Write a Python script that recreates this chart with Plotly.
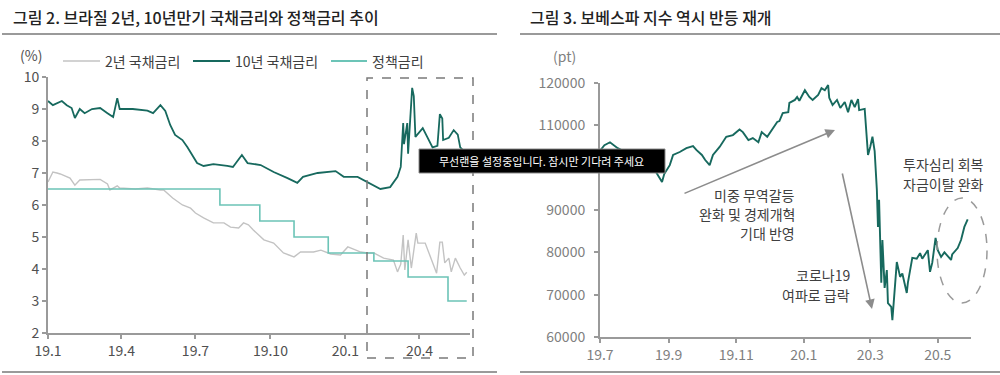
import plotly.graph_objects as go

# ---------------- data: left panel (Brazil rates, %) ----------------
y10_dates = ["2019-01-01","2019-01-07","2019-01-18","2019-01-24","2019-01-30","2019-02-03","2019-02-09",
             "2019-02-15","2019-02-24","2019-03-06","2019-03-15","2019-03-22","2019-03-27","2019-03-30",
             "2019-04-15","2019-05-03","2019-05-10","2019-05-19","2019-05-25","2019-05-31","2019-06-06",
             "2019-06-15","2019-06-21","2019-06-27","2019-07-03","2019-07-11","2019-07-23","2019-08-09",
             "2019-08-16","2019-08-27","2019-09-03","2019-09-19","2019-10-05","2019-10-22","2019-11-03",
             "2019-11-10","2019-11-28","2019-12-20","2019-12-30","2020-01-16","2020-01-28","2020-02-13",
             "2020-02-25","2020-03-05","2020-03-09","2020-03-12","2020-03-13","2020-03-17","2020-03-18",
             "2020-03-23","2020-03-25","2020-03-27","2020-04-05","2020-04-11","2020-04-17","2020-04-23",
             "2020-04-26","2020-04-29","2020-04-30","2020-05-07","2020-05-13","2020-05-18","2020-05-21",
             "2020-05-29"]
y10_vals = [9.25,9.12,9.25,9.12,9.03,8.72,9.0,8.87,9.0,9.03,8.87,8.75,9.34,9.0,9.0,8.95,8.87,9.12,8.94,
            8.5,8.19,8.03,7.81,7.56,7.31,7.22,7.28,7.22,7.19,7.56,7.31,7.25,7.03,6.84,6.69,6.88,7.0,7.06,
            6.88,6.88,6.72,6.5,6.56,6.88,7.19,8.56,7.9,8.56,7.6,9.66,9.4,8.13,8.4,8.1,7.8,7.85,8.84,8.7,
            8.03,8.1,8.34,8.2,7.8,7.6]

y2_dates = ["2019-01-01","2019-01-07","2019-01-12","2019-01-16","2019-01-28","2019-02-03","2019-02-09",
            "2019-02-21","2019-03-06","2019-03-15","2019-03-18","2019-03-27","2019-03-30","2019-04-18",
            "2019-05-03","2019-05-19","2019-05-23","2019-06-03","2019-06-15","2019-06-25","2019-07-01",
            "2019-07-11","2019-07-23","2019-08-05","2019-08-13","2019-08-23","2019-08-29","2019-09-04",
            "2019-09-10","2019-09-23","2019-10-05","2019-10-17","2019-10-30","2019-11-07","2019-11-23",
            "2019-12-02","2019-12-14","2019-12-26","2020-01-04","2020-01-11","2020-01-20","2020-01-28",
            "2020-02-05","2020-02-17","2020-02-29","2020-03-05","2020-03-09","2020-03-12","2020-03-14",
            "2020-03-18","2020-03-22","2020-03-28","2020-03-30","2020-04-08","2020-04-17","2020-04-22",
            "2020-04-26","2020-04-29","2020-05-02","2020-05-07","2020-05-10","2020-05-15","2020-05-21",
            "2020-05-26","2020-05-29"]
y2_vals = [6.72,7.03,7.0,6.97,6.84,6.62,6.78,6.78,6.8,6.66,6.47,6.6,6.53,6.5,6.53,6.47,6.47,6.22,6.0,
           5.9,5.75,5.6,5.44,5.44,5.31,5.28,5.44,5.38,5.22,4.91,4.81,4.5,4.38,4.53,4.53,4.59,4.47,4.44,
           4.69,4.62,4.53,4.5,4.5,4.34,4.28,3.91,4.15,5.06,3.97,4.91,4.03,5.12,4.81,4.81,4.22,3.87,4.84,
           4.84,4.19,4.34,3.91,4.34,4.03,3.81,3.9]

selic_dates = ["2019-01-01","2019-07-31","2019-09-18","2019-10-30","2019-12-11","2020-02-05",
               "2020-03-18","2020-05-06","2020-05-29"]
selic_vals = [6.5,6.0,5.5,5.0,4.5,4.25,3.75,3.0,3.0]

left_tickvals = ["2019-01-01","2019-04-01","2019-07-01","2019-10-01","2020-01-01","2020-04-01"]
left_ticktext = ["19.1","19.4","19.7","19.10","20.1","20.4"]

# ---------------- data: right panel (Bovespa, pt) ----------------
ibov_dates = ["2019-07-01","2019-07-05","2019-07-10","2019-07-17","2019-07-23","2019-08-01","2019-08-10",
              "2019-08-17","2019-08-21","2019-08-26","2019-08-28","2019-09-02","2019-09-05","2019-09-11",
              "2019-09-17","2019-09-23","2019-09-26","2019-10-01","2019-10-04","2019-10-08","2019-10-11",
              "2019-10-17","2019-10-23","2019-10-29","2019-11-04","2019-11-07","2019-11-12","2019-11-16",
              "2019-11-21","2019-11-24","2019-11-29","2019-12-04","2019-12-08","2019-12-10","2019-12-13",
              "2019-12-18","2019-12-19","2019-12-24","2019-12-26","2019-12-28","2020-01-02","2020-01-06",
              "2020-01-09","2020-01-14","2020-01-17","2020-01-20","2020-01-23","2020-01-24","2020-01-27",
              "2020-01-31","2020-02-03","2020-02-07","2020-02-10","2020-02-13","2020-02-16","2020-02-19",
              "2020-02-20","2020-02-25","2020-02-28","2020-03-01","2020-03-03","2020-03-05","2020-03-07",
              "2020-03-08","2020-03-09","2020-03-11","2020-03-12","2020-03-14","2020-03-16","2020-03-17",
              "2020-03-20","2020-03-21","2020-03-24","2020-03-25","2020-03-28","2020-03-30","2020-04-03",
              "2020-04-04","2020-04-08","2020-04-12","2020-04-15","2020-04-17","2020-04-22","2020-04-24",
              "2020-04-26","2020-04-29","2020-05-01","2020-05-04","2020-05-07","2020-05-10","2020-05-13",
              "2020-05-14","2020-05-19","2020-05-22","2020-05-25","2020-05-28"]
ibov_vals = [104000,105300,106000,104600,103800,102500,101000,100500,98700,96600,98500,100600,103000,
             103700,104600,105100,104200,103000,101800,100600,103000,104900,107300,107700,109000,108400,
             106500,107000,106000,108400,107300,109400,110800,111000,112900,113100,115300,116000,116700,
             115800,118300,116700,116000,117200,118800,118300,119500,116500,114800,116000,114100,115500,
             113100,116000,114300,116200,113600,113900,103000,104900,107300,103900,94700,86000,92400,
             72800,82900,71600,75800,68000,67100,64000,72800,77700,74200,75000,70400,72800,78700,78500,
             79800,78500,80500,75400,77500,83400,80500,78900,80000,79000,78200,79500,81000,82900,86000,
             87800]

right_tickvals = ["2019-07-01","2019-09-01","2019-11-01","2020-01-01","2020-03-01","2020-05-01"]
right_ticktext = ["19.7","19.9","19.11","20.1","20.3","20.5"]
# 100000 label is hidden behind the overlay box in the picture
right_ytickvals = [60000, 70000, 80000, 90000, 100000, 110000, 120000]
right_yticktext = ["60000", "70000", "80000", "90000", "", "110000", "120000"]

# ---------------- styling ----------------
FONT = "Noto Sans CJK KR, sans-serif"
DARK = "#17695e"
LIGHT = "#6cc4b7"
GREY = "#c3c3c3"
AXIS = "#9a9a9a"
W, H = 1000, 375


def px(x):
    return x / W


def py(y):
    return 1 - y / H


fig = go.Figure()
fig.add_trace(go.Scatter(x=y2_dates, y=y2_vals, mode="lines", line=dict(color=GREY, width=1.4),
                         name="2년 국채금리", xaxis="x", yaxis="y"))
fig.add_trace(go.Scatter(x=selic_dates, y=selic_vals, mode="lines", line=dict(color=LIGHT, width=1.6, shape="hv"),
                         name="정책금리", xaxis="x", yaxis="y"))
fig.add_trace(go.Scatter(x=y10_dates, y=y10_vals, mode="lines", line=dict(color=DARK, width=1.8),
                         name="10년 국채금리", xaxis="x", yaxis="y"))
fig.add_trace(go.Scatter(x=ibov_dates, y=ibov_vals, mode="lines", line=dict(color=DARK, width=1.9),
                         name="보베스파", xaxis="x2", yaxis="y2"))

common_axis = dict(showgrid=False, zeroline=False, showline=True, linecolor=AXIS, linewidth=2,
                   ticks="outside", ticklen=4, tickcolor=AXIS, tickwidth=1.5, automargin=False)

fig.update_layout(
    width=W, height=H, margin=dict(l=0, r=0, t=0, b=0, pad=0, autoexpand=False),
    paper_bgcolor="white", plot_bgcolor="white", showlegend=False,
    font=dict(family=FONT, size=14, color="#404040"),
    xaxis=dict(domain=[px(48), px(470)], range=["2019-01-01", "2020-06-02"], anchor="y",
               tickmode="array", tickvals=left_tickvals, ticktext=left_ticktext,
               tickfont=dict(size=14, color="#505050"), **common_axis),
    yaxis=dict(domain=[py(333), py(77)], range=[2, 10], anchor="x", dtick=1,
               tickfont=dict(size=14, color="#505050"), **common_axis),
    xaxis2=dict(domain=[px(600), px(971)], range=["2019-07-01", "2020-05-31"], anchor="y2",
                tickmode="array", tickvals=right_tickvals, ticktext=right_ticktext,
                tickfont=dict(size=14, color="#808080"), **common_axis),
    yaxis2=dict(domain=[py(337), py(83)], range=[60000, 120000], anchor="x2",
                tickmode="array", tickvals=right_ytickvals, ticktext=right_yticktext,
                tickfont=dict(size=14, color="#808080"), ticklabelstandoff=6,
                **common_axis),
)

shapes = []
annotations = []

# title rules
for x0, x1 in [(2, 497), (520, 1000)]:
    shapes.append(dict(type="line", xref="paper", yref="paper", x0=px(x0), x1=px(x1), y0=py(34), y1=py(34),
                       line=dict(color="#9a9a9a", width=2)))
    shapes.append(dict(type="line", xref="paper", yref="paper", x0=px(x0), x1=px(x1), y0=py(372), y1=py(372),
                       line=dict(color="#9a9a9a", width=2)))

# titles
annotations.append(dict(text="그림 2. 브라질 2년, 10년만기 국채금리와 정책금리 추이", xref="paper", yref="paper",
                        x=px(11), y=py(17), xanchor="left", yanchor="middle", showarrow=False,
                        font=dict(size=16, color="#222222", family=FONT, weight=500)))
annotations.append(dict(text="그림 3. 보베스파 지수 역시 반등 재개", xref="paper", yref="paper",
                        x=px(528), y=py(17), xanchor="left", yanchor="middle", showarrow=False,
                        font=dict(size=16, color="#222222", family=FONT, weight=500)))

# unit labels
annotations.append(dict(text="(%)", xref="paper", yref="paper", x=px(31), y=py(55), showarrow=False,
                        xanchor="center", yanchor="middle", font=dict(size=14, color="#505050")))
annotations.append(dict(text="(pt)", xref="paper", yref="paper", x=px(564), y=py(56), showarrow=False,
                        xanchor="center", yanchor="middle", font=dict(size=14, color="#808080")))

# manual legend
leg_y = 61
for (x0, x1, color, width, label) in [(63, 100, GREY, 1.6, "2년 국채금리"),
                                      (193, 230, DARK, 2, "10년 국채금리"),
                                      (331, 367, LIGHT, 2, "정책금리")]:
    shapes.append(dict(type="line", xref="paper", yref="paper", x0=px(x0), x1=px(x1), y0=py(leg_y), y1=py(leg_y),
                       line=dict(color=color, width=width)))
    annotations.append(dict(text=label, xref="paper", yref="paper", x=px(x1 + 3), y=py(leg_y),
                            xanchor="left", yanchor="middle", showarrow=False,
                            font=dict(size=14, color="#404040")))

# dashed highlight box (left)
shapes.append(dict(type="rect", xref="paper", yref="paper", x0=px(367), x1=px(473), y0=py(358), y1=py(78),
                   line=dict(color="#7a7a7a", width=1.5, dash="dash")))
# dashed ellipse (right)
shapes.append(dict(type="circle", xref="paper", yref="paper", x0=px(937), x1=px(987), y0=py(303), y1=py(198),
                   line=dict(color="#9a9a9a", width=1.5, dash="dash")))

# right-panel text annotations
for text, x, y, anchor in [("미중 무역갈등", 797, 195, "right"), ("완화 및 경제개혁", 797, 214, "right"),
                           ("기대 반영", 797, 233, "right"),
                           ("코로나19", 852, 275, "right"), ("여파로 급락", 852, 295, "right"),
                           ("투자심리 회복", 943, 164, "center"), ("자금이탈 완화", 943, 184, "center")]:
    annotations.append(dict(text=text, xref="paper", yref="paper", x=px(x), y=py(y), xanchor=anchor,
                            yanchor="middle", showarrow=False, font=dict(size=14, color="#404040")))

# arrows
annotations.append(dict(text="", xref="paper", yref="paper", x=px(835), y=py(130), ax=683 - 835, ay=194 - 130,
                        axref="pixel", ayref="pixel", showarrow=True, arrowhead=2, arrowsize=1.2,
                        arrowwidth=1.6, arrowcolor="#8c8c8c"))
annotations.append(dict(text="", xref="paper", yref="paper", x=px(872), y=py(309), ax=842 - 872, ay=172 - 309,
                        axref="pixel", ayref="pixel", showarrow=True, arrowhead=2, arrowsize=1.2,
                        arrowwidth=1.6, arrowcolor="#8c8c8c"))

# overlay tooltip box seen in the picture
shapes.append(dict(type="rect", xref="paper", yref="paper", x0=px(419), x1=px(665), y0=py(173), y1=py(149),
                   fillcolor="#000000", line=dict(color="#8a8a8a", width=1)))
annotations.append(dict(text="무선랜을 설정중입니다. 잠시만 기다려 주세요", xref="paper", yref="paper",
                        x=px(437), y=py(161), xanchor="left", yanchor="middle", showarrow=False,
                        font=dict(size=11, color="#ffffff")))

fig.update_layout(shapes=shapes, annotations=annotations)
fig.write_html("out.html", config={"displayModeBar": False},
               post_script="document.body.style.margin='0px';document.body.style.padding='0px';")
